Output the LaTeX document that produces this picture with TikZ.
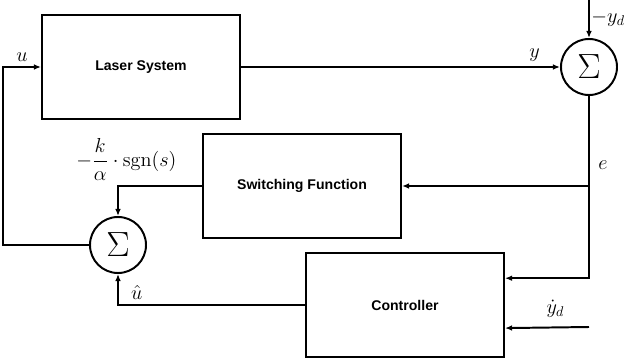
\documentclass[tikz,border=0pt]{standalone}
\usepackage{amsmath}
\usepackage{fontspec}
\setsansfont{Liberation Sans}
\usetikzlibrary{positioning,arrows.meta}
\tikzset{blk/.style={rectangle,draw,line width=1.4pt,minimum width=4.95cm,minimum height=2.6cm,font=\sffamily\bfseries},
    sumnode/.style={circle,draw,line width=1.4pt,minimum size=1.4cm,inner sep=0pt,font=\Huge},
    lbl/.style={font=\Large}}

\begin{document}
\begin{tikzpicture}[x=0.025cm,y=-0.025cm,>={Latex[length=5pt,width=4pt]},line width=1.4pt]
    \useasboundingbox (0,0) rectangle (626,361);

    \node[blk] (laser) at (141,67) {Laser System};
    \node[blk] (sf) at (302,186) {Switching Function};
    \node[blk] (ctrl) at (405,305) {Controller};

    \node[sumnode] (sum1) at (589,67) {$\Sigma$};
    \node[sumnode] (sum2) at (118,245) {$\Sigma$};

    \coordinate (ydtop) at (589,0);
    \coordinate (ydin) at (589,327);

    \draw [->] (laser.east) -- node[lbl,above,pos=0.92]{$y$} (sum1.west);
    \draw [->] (ydtop) -- node[lbl,right,pos=0.5,inner sep=1pt]{$-y_d$} (sum1.north);
    \draw [->] (sum1.south) |- (ctrl.15);
    \draw [->] (sum1.south |- sf.east) -- (sf.east);
    \node[lbl] (e) at (603,165) {$e$};
    \draw [->] (sf.west) -| node[lbl,above,pos=0.45]{$-\dfrac{k}{\alpha}\cdot\operatorname{sgn}(s)$} (sum2.north);
    \draw [->] (ctrl.west) -| node[lbl,above,pos=0.45]{$\hat{u}$} (sum2.south);
    \draw [->] (ydin) -- node[lbl,above=3pt,pos=0.4]{$\dot{y}_d$} (ctrl.-13);
    \draw [->] (sum2.west) -- ++(-86,0) |- node[lbl,above,pos=0.75]{$u$} (laser.west);
\end{tikzpicture}
\end{document}
